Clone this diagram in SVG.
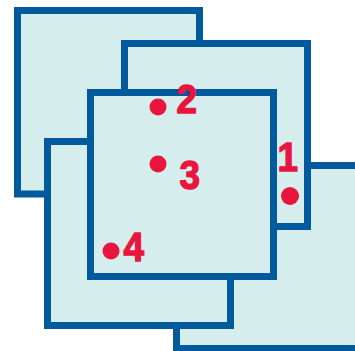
<svg xmlns="http://www.w3.org/2000/svg" width="355" height="351" viewBox="0 0 355 351">
<style>
.sq{fill:#d5eded;stroke:#005a9c;stroke-width:7}
.dot{fill:#e8163f}
.lbl{fill:#e8163f;stroke:#e8163f;stroke-width:1.4;stroke-linejoin:round;font-family:"Liberation Sans",Arial,sans-serif;font-weight:bold;font-size:41px}
</style>
<rect width="355" height="351" fill="#ffffff"/>
<g id="square-a"><rect class="sq" x="17.5" y="10.5" width="182" height="183.5"/></g>
<g id="square-e"><rect class="sq" x="176.5" y="165.5" width="183" height="183"/></g>
<g id="square-b"><rect class="sq" x="124.5" y="43.5" width="183" height="183"/></g>
<g id="square-d"><rect class="sq" x="47.5" y="141.5" width="183" height="184"/></g>
<g id="square-c"><rect class="sq" x="90.5" y="92.5" width="183" height="184"/></g>
<g id="connectors"></g>
<g id="point-1"><circle class="dot" cx="290" cy="196" r="9"/><text class="lbl" transform="translate(277.5,171) scale(0.9,1)">1</text></g>
<g id="point-2"><circle class="dot" cx="158" cy="107" r="8.5"/><text class="lbl" transform="translate(176.5,112.5) scale(0.9,1)">2</text></g>
<g id="point-3"><circle class="dot" cx="158" cy="164" r="8.5"/><text class="lbl" transform="translate(179.5,188.5) scale(0.9,1)">3</text></g>
<g id="point-4"><circle class="dot" cx="111" cy="251" r="8.5"/><text class="lbl" transform="translate(123.5,260.5) scale(0.9,1)">4</text></g>
</svg>
